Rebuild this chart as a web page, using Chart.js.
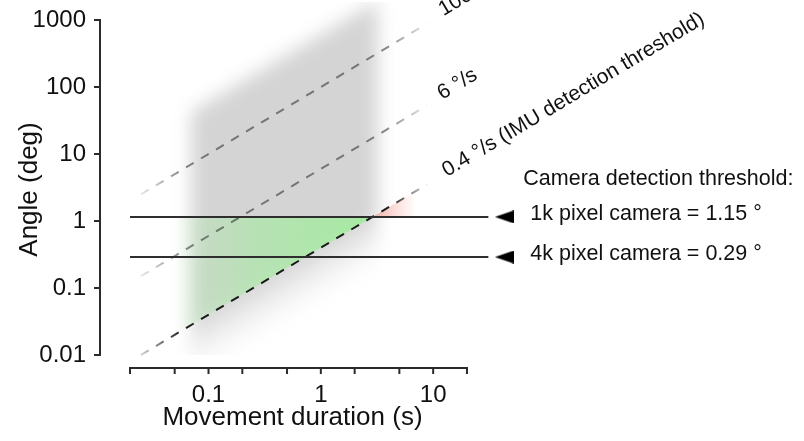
<!DOCTYPE html>
<html><head><meta charset="utf-8">
<script src="https://cdn.jsdelivr.net/npm/chart.js@4.4.1/dist/chart.umd.min.js"></script>
<style>html,body{margin:0;padding:0;background:#fff;}#wrap{width:804px;height:441px;position:relative;}</style>
</head><body><div id="wrap"><canvas id="c"></canvas></div>
<script>
// ---------- data ----------
const xTickValues = [0.02, 0.05, 0.1, 0.2, 0.5, 1, 2, 5, 10, 20];
const xTickLabels = ['', '', '0.1', '', '', '1', '', '', '10', ''];
const yTickValues = [0.01, 0.1, 1, 10, 100, 1000];
const yTickLabels = ['0.01', '0.1', '1', '10', '100', '1000'];
const xTitle = 'Movement duration (s)';
const yTitle = 'Angle (deg)';

const speedLabels = ['100 °/s', '6 °/s', '0.4 °/s (IMU detection threshold)'];
const speedDurations = [0.025, 8.8];
const speedAngles100 = [2.5, 880];
const speedAngles6 = [0.15, 52.8];
const speedAngles04 = [0.01, 3.52];

const cameraTitle = 'Camera detection threshold:';
const cameraLabels = ['1k pixel camera = 1.15 °', '4k pixel camera = 0.29 °'];
const cameraAngles = [1.15, 0.29];
const cameraLineDurations = [0.02, 31];
const markerDuration = 43;

const rangeDurations = [0.07, 3.2, 3.2, 0.07];
const rangeAngles = [42, 1920, 0.096, 0.0021];
const detectableDurations = [0.05, 2.875, 0.05];
const detectableAngles = [1.15, 1.15, 0.02];
const missedDurations = [2.875, 7.5, 7.5];
const missedAngles = [1.15, 3.0, 1.15];

// ---------- helpers ----------
const FONT = '"Liberation Sans", Arial, Helvetica, sans-serif';
const pts = (xs, ys) => xs.map((x, i) => ({x: x, y: ys[i]}));
function hGrad(chart, v0, v1, stops, fallback) {
  if (!chart.chartArea) return fallback;
  const xs = chart.scales.x;
  const g = chart.ctx.createLinearGradient(xs.getPixelForValue(v0), 0, xs.getPixelForValue(v1), 0);
  stops.forEach(s => g.addColorStop(s[0], s[1]));
  return g;
}
function fadeLine(alpha) {
  return c => hGrad(c.chart, speedDurations[0], speedDurations[1], [
    [0, `rgba(0,0,0,${alpha * 0.2})`], [0.14, `rgba(0,0,0,${alpha})`],
    [0.86, `rgba(0,0,0,${alpha})`], [1, `rgba(0,0,0,${alpha * 0.2})`]], `rgba(0,0,0,${alpha})`);
}
// grey range: solid above the 0.4 °/s line, fading out below it
function greyFill(c) {
  const chart = c.chart;
  if (!chart.chartArea) return '#d4d4d4';
  const xs = chart.scales.x, ys = chart.scales.y;
  const x0 = xs.getPixelForValue(speedDurations[0]), y0 = ys.getPixelForValue(speedAngles04[0]);
  const x1 = xs.getPixelForValue(speedDurations[1]), y1 = ys.getPixelForValue(speedAngles04[1]);
  const len = Math.hypot(x1 - x0, y1 - y0);
  const nx = -(y1 - y0) / len, ny = (x1 - x0) / len; // points below the line
  const sx = x0 - 4 * nx, sy = y0 - 4 * ny;
  const g = chart.ctx.createLinearGradient(sx, sy, sx + 50 * nx, sy + 50 * ny);
  g.addColorStop(0, 'rgba(212,212,212,1)');
  g.addColorStop(0.15, 'rgba(212,212,212,0.8)');
  g.addColorStop(0.55, 'rgba(212,212,212,0.3)');
  g.addColorStop(1, 'rgba(212,212,212,0)');
  return g;
}
const tri = document.createElement('canvas');
tri.width = 19; tri.height = 13;
(function () { const t = tri.getContext('2d'); t.fillStyle = '#000'; t.beginPath(); t.moveTo(0, 6.5); t.lineTo(19, 0); t.lineTo(19, 13); t.closePath(); t.fill(); })();

const speedSets = [speedAngles100, speedAngles6, speedAngles04];
const speedAlpha = [0.45, 0.45, 0.88];

const datasets = [
  { // grey range (blurred)
    data: pts(rangeDurations, rangeAngles), fill: 'shape', backgroundColor: greyFill,
    borderWidth: 0, pointRadius: 0, order: 10
  },
  { // green detectable zone
    data: pts(detectableDurations, detectableAngles), fill: 'shape', borderWidth: 0, pointRadius: 0, order: 9,
    backgroundColor: c => hGrad(c.chart, detectableDurations[0], detectableDurations[1], [
      [0, 'rgba(160,236,155,0)'], [0.12, 'rgba(160,236,155,0.25)'], [0.4, 'rgba(160,236,155,0.55)'], [1, 'rgba(160,236,155,0.9)']], 'rgba(160,236,155,0.6)')
  },
  { // red zone
    data: pts(missedDurations, missedAngles), fill: 'shape', borderWidth: 0, pointRadius: 0, order: 8,
    backgroundColor: c => hGrad(c.chart, missedDurations[0], 7, [
      [0, 'rgba(240,140,125,0.6)'], [0.5, 'rgba(240,140,125,0.3)'], [1, 'rgba(240,140,125,0)']], 'rgba(240,150,140,0.3)')
  }
];
speedSets.forEach((angles, i) => datasets.push({
  data: pts(speedDurations, angles), borderColor: fadeLine(speedAlpha[i]), borderWidth: 2,
  borderDash: [9, 8.5], pointRadius: 0, fill: false, order: 5, clip: false
}));
cameraAngles.forEach(a => datasets.push({
  data: pts(cameraLineDurations, [a, a]), borderColor: '#2e2e2e', borderWidth: 2,
  pointRadius: 0, fill: false, order: 3, clip: false
}));
datasets.push({
  data: pts([markerDuration, markerDuration], cameraAngles), showLine: false, pointStyle: tri,
  pointRadius: 1, pointHoverRadius: 1, order: 1, clip: false
});

const annot = {
  id: 'annot',
  beforeDatasetsDraw(chart) { chart.ctx.filter = 'blur(9px)'; },
  afterDatasetDraw(chart, args) { if (args.index === 0) chart.ctx.filter = 'none'; },
  afterDraw(chart) {
    const {ctx, chartArea} = chart;
    const xs = chart.scales.x, ys = chart.scales.y;
    ctx.save();
    ctx.filter = 'none';
    ctx.strokeStyle = '#2b2b2b';
    ctx.lineWidth = 2;
    // y spine
    const ax = chartArea.left - 30;
    const yb = ys.getPixelForValue(yTickValues[0]), yt = ys.getPixelForValue(yTickValues[yTickValues.length - 1]);
    ctx.beginPath();
    ctx.moveTo(ax, yb + 1); ctx.lineTo(ax, yt - 1);
    yTickValues.forEach(v => { const p = ys.getPixelForValue(v); ctx.moveTo(ax - 6, p); ctx.lineTo(ax + 1, p); });
    ctx.stroke();
    // x spine
    const ay = chartArea.bottom + 13;
    const xl = xs.getPixelForValue(xTickValues[0]), xr = xs.getPixelForValue(xTickValues[xTickValues.length - 1]);
    ctx.beginPath();
    ctx.moveTo(xl - 1, ay); ctx.lineTo(xr + 1, ay);
    xTickValues.forEach(v => { const p = xs.getPixelForValue(v); ctx.moveTo(p, ay - 1); ctx.lineTo(p, ay + 6); });
    ctx.stroke();

    // axis titles
    ctx.fillStyle = '#111';
    ctx.font = `26px ${FONT}`;
    ctx.textAlign = 'center';
    ctx.textBaseline = 'middle';
    ctx.fillText(xTitle, (xl + xr) / 2 - 6, chartArea.bottom + 63);
    ctx.save();
    ctx.translate(ax - 70, (yb + yt) / 2 + 2);
    ctx.rotate(-Math.PI / 2);
    ctx.fillText(yTitle, 0, 0);
    ctx.restore();

    // speed labels
    ctx.font = `21px ${FONT}`;
    ctx.textBaseline = 'alphabetic';
    ctx.textAlign = 'left';
    const along = [18, 16, 21], perp = [-2, -3, -4];
    speedSets.forEach((angles, i) => {
      const x0 = xs.getPixelForValue(speedDurations[0]), y0 = ys.getPixelForValue(angles[0]);
      const x1 = xs.getPixelForValue(speedDurations[1]), y1 = ys.getPixelForValue(angles[1]);
      const dx = x1 - x0, dy = y1 - y0, len = Math.hypot(dx, dy);
      const ux = dx / len, uy = dy / len, nx = uy, ny = -ux;
      const px = x1 + along[i] * ux + perp[i] * nx, py = y1 + along[i] * uy + perp[i] * ny;
      ctx.save();
      ctx.translate(px, py);
      ctx.rotate(Math.atan2(dy, dx));
      ctx.fillText(speedLabels[i], 0, 0);
      ctx.restore();
    });
    // camera labels
    const tx = xs.getPixelForValue(markerDuration);
    ctx.font = `21.5px ${FONT}`;
    ctx.textBaseline = 'middle';
    const y1k = ys.getPixelForValue(cameraAngles[0]);
    ctx.fillText(cameraTitle, tx + 19, y1k - 38);
    cameraAngles.forEach((a, i) => ctx.fillText(cameraLabels[i], tx + 26, ys.getPixelForValue(a) - 3));
    ctx.restore();
  }
};

new Chart(document.getElementById('c'), {
  type: 'line',
  data: {datasets},
  options: {
    responsive: true, maintainAspectRatio: false, animation: false, events: [],
    layout: {padding: {top: 2, right: 284, bottom: 0, left: 0}},
    plugins: {legend: {display: false}, tooltip: {enabled: false}},
    elements: {line: {tension: 0}},
    scales: {
      x: {
        type: 'logarithmic', position: 'bottom', min: 0.02, max: 59.3,
        afterBuildTicks: s => { s.ticks = xTickValues.map(v => ({value: v})); },
        afterFit: s => { s.height = 86; s.paddingLeft = 0; s.paddingRight = 0; },
        grid: {display: false, drawTicks: false}, border: {display: false},
        ticks: {autoSkip: false, maxRotation: 0, padding: 26, color: '#111', font: {family: FONT, size: 24},
          callback: (v, i) => xTickLabels[i]},
        title: {display: false, text: xTitle}
      },
      y: {
        type: 'logarithmic', position: 'left', min: 0.01, max: 1857,
        afterBuildTicks: s => { s.ticks = yTickValues.map(v => ({value: v})); },
        afterFit: s => { s.width = 130; s.paddingTop = 0; s.paddingBottom = 0; },
        grid: {display: false, drawTicks: false}, border: {display: false},
        ticks: {autoSkip: false, padding: 44, color: '#111', font: {family: FONT, size: 24},
          callback: (v, i) => yTickLabels[i]},
        title: {display: false, text: yTitle}
      }
    }
  },
  plugins: [annot]
});
</script></body></html>
